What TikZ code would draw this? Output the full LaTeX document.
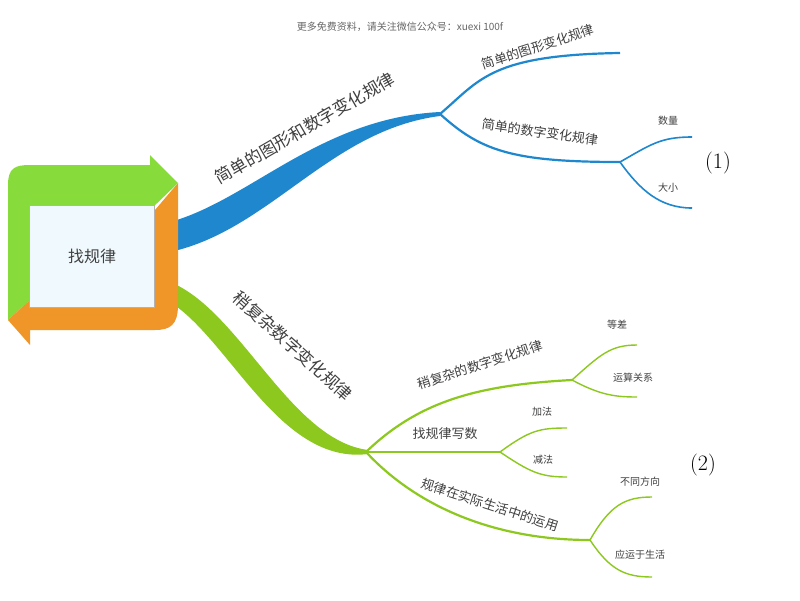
\documentclass[tikz,border=0pt]{standalone}
\usepackage{fontspec}
\newfontfamily\cjk{Noto Sans CJK SC}
\definecolor{bcol}{RGB}{30,135,205}
\definecolor{gcol}{RGB}{140,200,30}
\definecolor{bgreen}{RGB}{135,220,60}
\definecolor{borange}{RGB}{240,150,40}
\begin{document}
\begin{tikzpicture}[x=1pt,y=-1pt,
  lbl/.style={font=\cjk\fontsize{13}{15}\selectfont,text=black!75},
  sm/.style={font=\cjk\fontsize{10}{12}\selectfont,text=black!75},
  big/.style={font=\cjk\fontsize{17}{19}\selectfont,text=black!75},
  bl/.style={draw=bcol,line width=2.2pt},
  gr/.style={draw=gcol,line width=2.2pt}]
\useasboundingbox (0,0) rectangle (800,600);
\fill[white] (0,0) rectangle (800,600);
\node[font=\cjk\fontsize{10}{12}\selectfont,text=black!60] (hdr) at (400,27) {更多免费资料，请关注微信公众号：xuexi 100f};
% thick branches
\fill[bcol] (170,222) .. controls (250,200) and (320,118) .. (440,112)
  -- (440,116) .. controls (330,130) and (270,230) .. (170,252) -- cycle;
\fill[gcol] (170,282) .. controls (240,310) and (290,440) .. (368,450)
  -- (368,454) .. controls (280,465) and (230,340) .. (170,302) -- cycle;
% central box
\fill[bgreen] (8,185) .. controls (8,168) and (15,165) .. (30,165) -- (150,165) -- (150,155) -- (178,183) -- (150,210) -- (30,205) -- (30,300) -- (8,320) -- cycle;
\fill[borange] (178,183) -- (178,305) .. controls (178,325) and (170,330) .. (155,330) -- (30,330) -- (30,345) -- (8,320) -- (30,300) -- (155,305) -- (155,210) -- cycle;
\node[draw=gray!60,fill=cyan!6,minimum width=125pt,minimum height=102pt,font=\cjk\fontsize{16}{18}\selectfont,text=black!75] (root) at (92,256) {找规律};
% blue sub-branches
\coordinate (b0) at (440,114);
\coordinate (b1) at (620,53);
\coordinate (b2) at (620,162);
\coordinate (b21) at (692,137);
\coordinate (b22) at (692,208);
\draw[bl] (b0) .. controls (480,80) and (490,55) .. (b1);
\draw[bl] (b0) .. controls (480,150) and (510,162) .. (b2);
\draw[bl,line width=1.6pt] (b2) .. controls (650,145) and (660,137) .. (b21);
\draw[bl,line width=1.6pt] (b2) .. controls (640,190) and (660,208) .. (b22);
% green sub-branches
\coordinate (g0) at (366,452);
\coordinate (g1) at (572,380);
\coordinate (g11) at (637,345);
\coordinate (g12) at (637,397);
\coordinate (g2) at (500,452);
\coordinate (g21) at (567,428);
\coordinate (g22) at (567,477);
\coordinate (g3) at (590,540);
\coordinate (g31) at (652,497);
\coordinate (g32) at (652,577);
\draw[gr] (g0) .. controls (420,400) and (480,385) .. (g1);
\draw[gr] (g0) -- (g2);
\draw[gr] (g0) .. controls (420,510) and (500,540) .. (g3);
\draw[gr,line width=1.4pt] (g1) .. controls (600,355) and (610,345) .. (g11);
\draw[gr,line width=1.4pt] (g1) .. controls (600,395) and (615,397) .. (g12);
\draw[gr,line width=1.4pt] (g2) .. controls (530,430) and (540,428) .. (g21);
\draw[gr,line width=1.4pt] (g2) .. controls (530,472) and (540,477) .. (g22);
\draw[gr,line width=1.4pt] (g3) .. controls (610,505) and (625,497) .. (g31);
\draw[gr,line width=1.4pt] (g3) .. controls (610,570) and (625,577) .. (g32);
% labels
\node[big,rotate=30] (t1) at (305,128) {简单的图形和数字变化规律};
\node[lbl,rotate=18] (t11) at (538,47) {简单的图形变化规律};
\node[lbl,rotate=-8] (t12) at (540,132) {简单的数字变化规律};
\node[sm] (t121) at (668,121) {数量};
\node[sm] (t122) at (668,188) {大小};
\node[font=\fontsize{22}{24}\selectfont] (n1) at (718,163) {(1)};
\node[big,rotate=-42] (t2) at (293,346) {稍复杂数字变化规律};
\node[lbl,rotate=18] (t21) at (480,365) {稍复杂的数字变化规律};
\node[sm] (t211) at (617,325) {等差};
\node[sm] (t212) at (633,378) {运算关系};
\node[lbl] (t22) at (445,434) {找规律写数};
\node[sm] (t221) at (542,412) {加法};
\node[sm] (t222) at (543,460) {减法};
\node[lbl,rotate=-18] (t23) at (490,505) {规律在实际生活中的运用};
\node[sm] (t231) at (640,482) {不同方向};
\node[sm] (t232) at (640,555) {应运于生活};
\node[font=\fontsize{22}{24}\selectfont] (n2) at (703,465) {(2)};
\end{tikzpicture}
\end{document}
